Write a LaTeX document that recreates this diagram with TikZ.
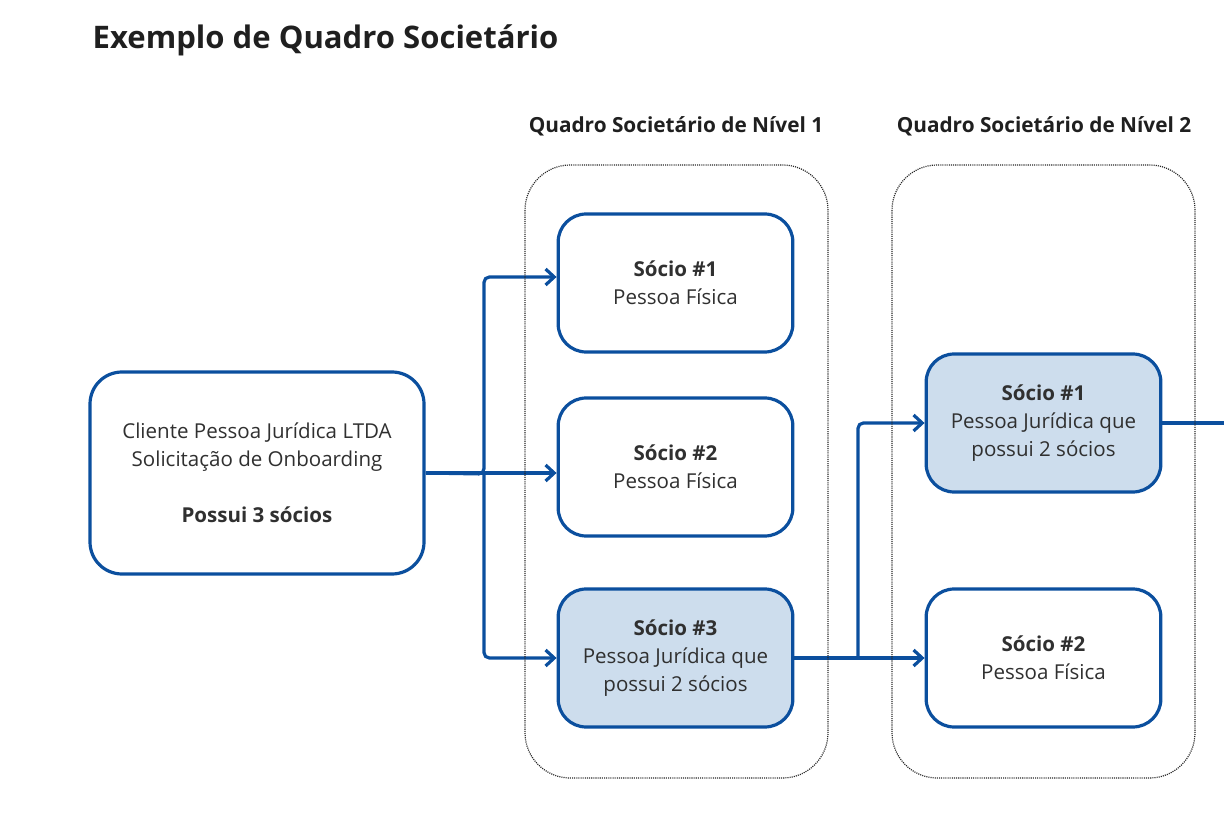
\documentclass[tikz,border=0pt]{standalone}
\usepackage{fontspec}
\setmainfont{Open Sans}
\usetikzlibrary{arrows.meta}
\definecolor{qsblue}{HTML}{0B4F9E}
\definecolor{qsfill}{HTML}{CDDDED}
\definecolor{qstext}{HTML}{303030}

\begin{document}
\begin{tikzpicture}[x=0.75pt, y=-0.75pt, font=\fontsize{15.4}{21}\selectfont, text=qstext,
    socio/.style={draw=qsblue, line width=2.4pt, rounded corners=21pt, align=center,
      minimum width=176pt, minimum height=103.5pt, inner sep=0pt},
    socioPJ/.style={socio, fill=qsfill},
    link/.style={draw=qsblue, line width=2.4pt, rounded corners=4pt},
    arr/.style={link, -{Straight Barb[length=6.5pt, width=12pt]}},
    quadro/.style={draw=black!85, line width=0.9pt, dash pattern=on 0.8pt off 0.8pt, rounded corners=34pt}]
  \useasboundingbox (0,0) rectangle (1224,816);
  \node[anchor=west, font=\fontsize{23.3}{28}\selectfont\bfseries, text=black!88] (title) at (88,40) {Exemplo de Quadro Societário};
  \node[font=\fontsize{15.6}{21}\selectfont\bfseries, text=black!88] (nivel1) at (676,126) {Quadro Societário de Nível 1};
  \node[font=\fontsize{15.6}{21}\selectfont\bfseries, text=black!88] (nivel2) at (1044,126) {Quadro Societário de Nível 2};
  % cliente e socios
  \node[socio, minimum width=250.5pt, minimum height=151.5pt, rounded corners=24pt] (cliente) at (257,473)
    {Cliente Pessoa Jurídica LTDA\\ Solicitação de Onboarding\\[21pt] \textbf{Possui 3 sócios}};
  \node[socio] (n1s1) at (675.5,283) {\textbf{Sócio \#1}\\ Pessoa Física};
  \node[socio] (n1s2) at (675.5,467) {\textbf{Sócio \#2}\\ Pessoa Física};
  \node[socioPJ] (n1s3) at (675.5,658) {\textbf{Sócio \#3}\\ Pessoa Jurídica que\\ possui 2 sócios};
  \node[socioPJ] (n2s1) at (1043.5,423) {\textbf{Sócio \#1}\\ Pessoa Jurídica que\\ possui 2 sócios};
  \node[socio] (n2s2) at (1043.5,658) {\textbf{Sócio \#2}\\ Pessoa Física};
  % ligacoes
  \coordinate (j1) at (484,474);
  \coordinate (j2) at (858,658);
  \coordinate (borda) at (1224,423);
  \draw[arr] (cliente.east) -- (j1) |- ([yshift=4.5pt]n1s1.west);
  \draw[arr] (cliente.east) -- (n1s2.west |- cliente.east);
  \draw[arr] (j1) |- (n1s3.west);
  \draw[link] (n1s3.east) -- (j2);
  \draw[arr] (j2) |- (n2s1.west);
  \draw[arr] (j2) -- (n2s2.west);
  \draw[link] (n2s1.east) -- (borda);
  % quadros pontilhados
  \draw[quadro] (525,165) rectangle (828,778);
  \draw[quadro] (892,165) rectangle (1195,778);
\end{tikzpicture}
\end{document}
